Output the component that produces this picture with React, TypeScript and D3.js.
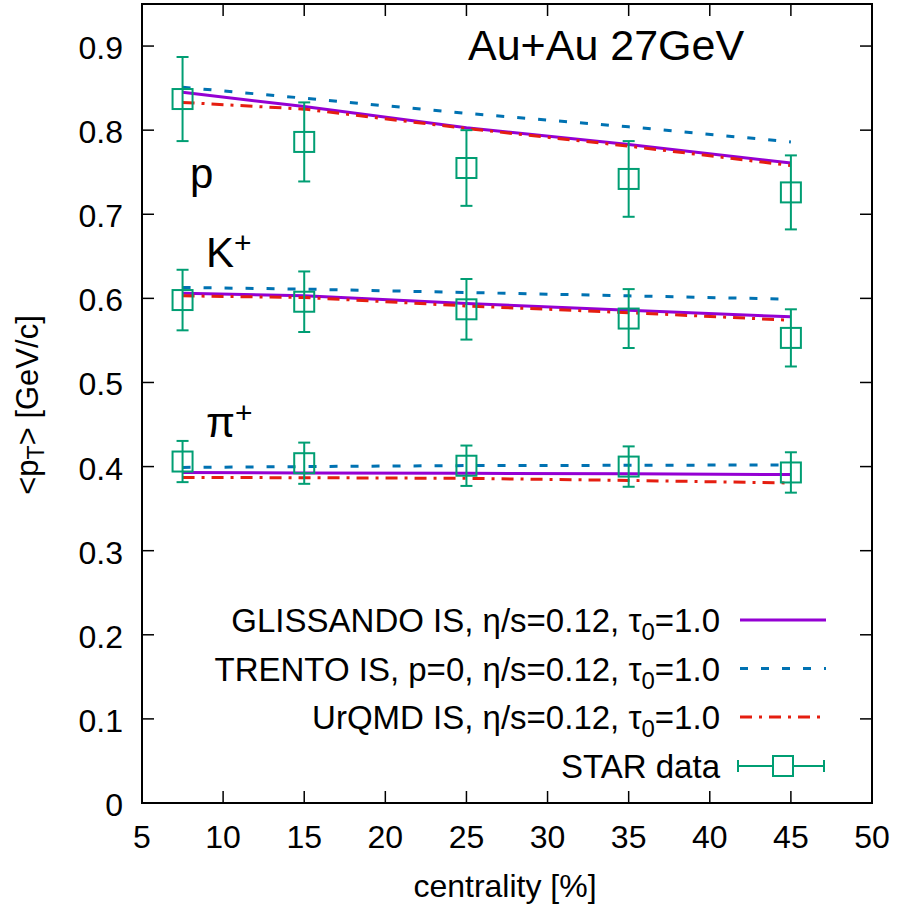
import React from "react"
import * as d3 from "d3"

const WIDTH = 898
const HEIGHT = 907

// centrality bins [%]
const CENTRALITY = [7.5, 15, 25, 35, 45]

// GLISSANDO IS
const GLISSANDO_P = [0.845, 0.828, 0.803, 0.783, 0.761]
const GLISSANDO_K = [0.606, 0.603, 0.594, 0.586, 0.578]
const GLISSANDO_PI = [0.393, 0.3925, 0.392, 0.3915, 0.3905]

// TRENTO IS
const TRENTO_P = [0.851, 0.838, 0.82, 0.804, 0.786]
const TRENTO_K = [0.613, 0.611, 0.607, 0.603, 0.599]
const TRENTO_PI = [0.399, 0.4, 0.4012, 0.4015, 0.402]

// UrQMD IS
const URQMD_P = [0.833, 0.825, 0.802, 0.781, 0.758]
const URQMD_K = [0.603, 0.601, 0.591, 0.583, 0.574]
const URQMD_PI = [0.387, 0.3868, 0.386, 0.3835, 0.3805]

// STAR data
const STAR_P = [0.837, 0.786, 0.755, 0.742, 0.726]
const STAR_P_ERR = [0.05, 0.047, 0.045, 0.045, 0.044]
const STAR_K = [0.598, 0.596, 0.587, 0.576, 0.553]
const STAR_K_ERR = [0.036, 0.036, 0.036, 0.035, 0.034]
const STAR_PI = [0.406, 0.404, 0.401, 0.4, 0.393]
const STAR_PI_ERR = [0.0245, 0.0245, 0.024, 0.024, 0.024]

const X_TICKS = [5, 10, 15, 20, 25, 30, 35, 40, 45, 50]
const Y_TICKS = [0, 0.1, 0.2, 0.3, 0.4, 0.5, 0.6, 0.7, 0.8, 0.9]

const FONT = "'Liberation Sans', Arial, Helvetica, sans-serif"
const PURPLE = "#9400d3"
const BLUE = "#0072b2"
const RED = "#e51e10"
const GREEN = "#009e73"

const MODELS = [
  { key: "gl", color: PURPLE, dash: null, series: [GLISSANDO_P, GLISSANDO_K, GLISSANDO_PI] },
  { key: "tr", color: BLUE, dash: "8,13", series: [TRENTO_P, TRENTO_K, TRENTO_PI] },
  { key: "uq", color: RED, dash: "12,7,3,7", series: [URQMD_P, URQMD_K, URQMD_PI] },
]

const STAR = [
  { v: STAR_P, e: STAR_P_ERR },
  { v: STAR_K, e: STAR_K_ERR },
  { v: STAR_PI, e: STAR_PI_ERR },
]

const SQ = 20
const CAP = 6
const TICK = 12

function Tau0() {
  return (
    <>
      τ<tspan dy={8} fontSize={24}>0</tspan>
      <tspan dy={-8}>=1.0</tspan>
    </>
  )
}

export default function App() {
  const left = 142
  const right = 872
  const top = 4
  const bottom = 803

  const x = d3.scaleLinear().domain([5, 50]).range([left, right])
  const y = d3.scaleLinear().domain([0, 0.95]).range([bottom, top])

  const line = d3
    .line<number>()
    .x((_, i) => x(CENTRALITY[i]))
    .y(d => y(d))

  const legendRows = [
    { y: 620, kind: "gl" },
    { y: 668.5, kind: "tr" },
    { y: 717, kind: "uq" },
    { y: 766, kind: "star" },
  ]

  return (
    <svg
      width={WIDTH}
      height={HEIGHT}
      style={{ position: "absolute", left: 0, top: 0, background: "#fff" }}
      fontFamily={FONT}
    >
      <rect x={0} y={0} width={WIDTH} height={HEIGHT} fill="#fff" />

      {/* model curves */}
      {MODELS.map(m =>
        m.series.map((s, j) => (
          <path
            key={m.key + j}
            d={line(s) || ""}
            fill="none"
            stroke={m.color}
            strokeWidth={3}
            strokeDasharray={m.dash || undefined}
          />
        ))
      )}

      {/* STAR data */}
      {STAR.map((s, j) =>
        s.v.map((v, i) => {
          const cx = x(CENTRALITY[i])
          const cy = y(v)
          const y1 = y(v + s.e[i])
          const y2 = y(v - s.e[i])
          return (
            <g key={"star" + j + i} stroke={GREEN} strokeWidth={2} fill="none">
              <line x1={cx} x2={cx} y1={y1} y2={y2} />
              <line x1={cx - CAP} x2={cx + CAP} y1={y1} y2={y1} />
              <line x1={cx - CAP} x2={cx + CAP} y1={y2} y2={y2} />
              <rect x={cx - SQ / 2} y={cy - SQ / 2} width={SQ} height={SQ} />
            </g>
          )
        })
      )}

      {/* ticks */}
      <g stroke="#000" strokeWidth={1.5}>
        {X_TICKS.map(t => (
          <g key={"xt" + t}>
            <line x1={x(t)} x2={x(t)} y1={bottom} y2={bottom - TICK} />
            <line x1={x(t)} x2={x(t)} y1={top} y2={top + TICK} />
          </g>
        ))}
        {Y_TICKS.map(t => (
          <g key={"yt" + t}>
            <line x1={left} x2={left + TICK} y1={y(t)} y2={y(t)} />
            <line x1={right} x2={right - TICK} y1={y(t)} y2={y(t)} />
          </g>
        ))}
      </g>

      {/* frame */}
      <rect
        x={left}
        y={top}
        width={right - left}
        height={bottom - top}
        fill="none"
        stroke="#000"
        strokeWidth={2}
      />

      {/* tick labels */}
      {X_TICKS.map(t => (
        <text key={"xl" + t} x={x(t)} y={848} fontSize={32} textAnchor="middle">
          {t}
        </text>
      ))}
      {Y_TICKS.map(t => (
        <text key={"yl" + t} x={123} y={y(t) + 13} fontSize={32} textAnchor="end">
          {String(+t.toFixed(1))}
        </text>
      ))}

      {/* axis titles */}
      <text x={505} y={897} fontSize={32} textAnchor="middle">
        centrality [%]
      </text>
      <text
        transform="translate(38, 405) rotate(-90)"
        fontSize={31}
        textAnchor="middle"
      >
        &lt;p<tspan dy={6} fontSize={23}>T</tspan>
        <tspan dy={-6}>&gt; [GeV/c]</tspan>
      </text>

      {/* title */}
      <text x={468} y={60} fontSize={43}>
        Au+Au 27GeV
      </text>

      {/* species labels */}
      <text x={190} y={188} fontSize={42}>
        p
      </text>
      <text x={206} y={267} fontSize={42}>
        K<tspan dy={-14} fontSize={30}>+</tspan>
      </text>
      <text x={206} y={437} fontSize={42}>
        π<tspan dy={-14} fontSize={30}>+</tspan>
      </text>

      {/* legend */}
      {legendRows.map(r => {
        const tx = 720
        const ty = r.y + 12
        const x1 = 740
        const x2 = 826
        if (r.kind === "star") {
          const cx = (x1 + x2) / 2
          return (
            <g key={r.kind}>
              <text x={tx} y={ty} fontSize={33} textAnchor="end">
                STAR data
              </text>
              <g stroke={GREEN} strokeWidth={2} fill="none">
                <line x1={x1 - 2} x2={x2 - 2} y1={r.y} y2={r.y} />
                <line x1={x1 - 2} x2={x1 - 2} y1={r.y - CAP} y2={r.y + CAP} />
                <line x1={x2 - 2} x2={x2 - 2} y1={r.y - CAP} y2={r.y + CAP} />
                <rect x={cx - SQ / 2} y={r.y - SQ / 2} width={SQ} height={SQ} fill="#fff" />
              </g>
            </g>
          )
        }
        const m = MODELS.find(d => d.key === r.kind)!
        return (
          <g key={r.kind}>
            <text x={tx} y={ty} fontSize={33} textAnchor="end">
              {r.kind === "gl" && <>GLISSANDO IS, η/s=0.12, </>}
              {r.kind === "tr" && <>TRENTO IS, p=0, η/s=0.12, </>}
              {r.kind === "uq" && <>UrQMD IS, η/s=0.12, </>}
              <Tau0 />
            </text>
            <line
              x1={x1}
              x2={x2}
              y1={r.y}
              y2={r.y}
              stroke={m.color}
              strokeWidth={3}
              strokeDasharray={m.dash || undefined}
            />
          </g>
        )
      })}
    </svg>
  )
}
